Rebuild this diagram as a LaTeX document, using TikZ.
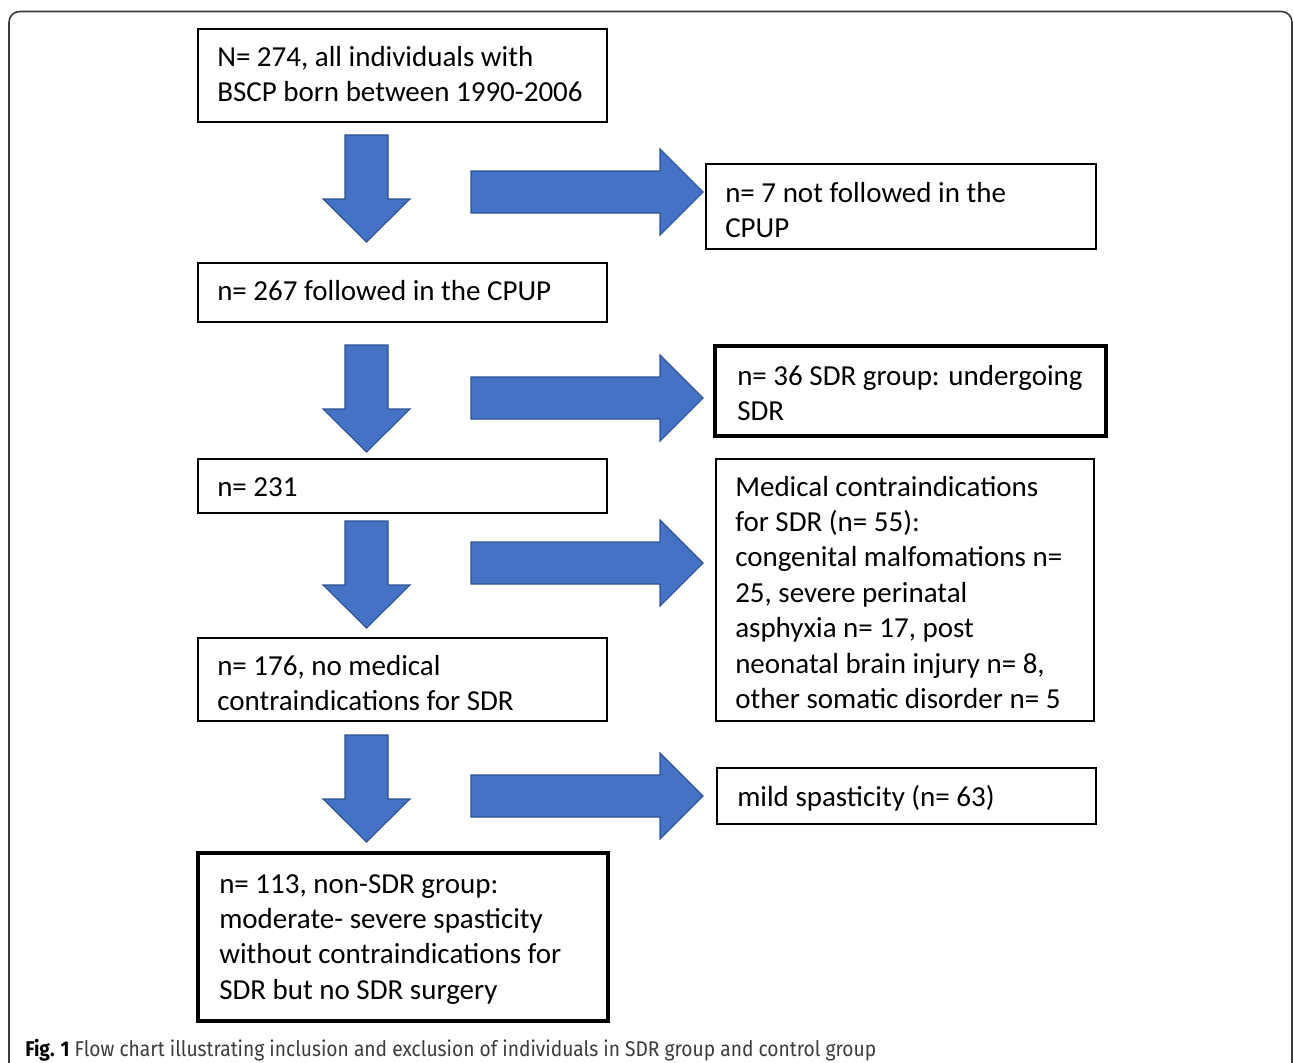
\documentclass[tikz,border=0pt]{standalone}
\usepackage{fontspec}
\setmainfont{Carlito}
\newfontfamily\capfont[FakeStretch=0.9]{Fira Sans}
\usetikzlibrary{fit}
\definecolor{arrowblue}{HTML}{4472C4}
\definecolor{arrowedge}{HTML}{2F528F}
\definecolor{framegray}{HTML}{3A3A3A}
\definecolor{captext}{HTML}{3C3C3C}
\begin{document}
\begin{tikzpicture}[x=0.75pt,y=-0.75pt,
  box/.style={draw=black, line width=1.1pt, inner sep=0pt},
  thickbox/.style={box, line width=3pt},
  txt/.style={anchor=base west, align=left, inner sep=0pt, font=\fontsize{21.75}{26.6}\selectfont},
  blockarrow/.style={fill=arrowblue, draw=arrowedge, line width=0.8pt, line join=miter},
  downarr/.pic={\path[blockarrow] (-21.5,0) -- (21.5,0) -- (21.5,64) -- (43.5,64) -- (0,107) -- (-43.5,64) -- (-21.5,64) -- cycle;},
  rightarr/.pic={\path[blockarrow] (0,-21) -- (189,-21) -- (189,-43) -- (232,0) -- (189,43) -- (189,21) -- (0,21) -- cycle;}
]
\useasboundingbox (0,0) rectangle (1293,1063);
\clip (0,0) rectangle (1293,1063);
\fill[white] (0,0) rectangle (1293,1063);
% outer frame
\draw[framegray, line width=1.2pt, rounded corners=8pt] (9,11.5) rectangle (1292,1100);

% boxes (text anchored at the baseline of its last line)
\node[box, fit={(198,29) (607,122)}] (b1) {};
\node[txt] (t1) at (217,101.5) {N= 274, all individuals with\\BSCP born between 1990-2006};

\node[box, fit={(706,164) (1096,249)}] (b2) {};
\node[txt] (t2) at (725,237.5) {n= 7 not followed in the\\CPUP};

\node[box, fit={(198,263) (607,322)}] (b3) {};
\node[txt] (t3) at (217,300) {n= 267 followed in the CPUP};

\node[thickbox, fit={(715,346) (1106,436)}] (b4) {};
\node[txt] (t4) at (737,420.5) {n= 36 SDR group: undergoing\\SDR};

\node[box, fit={(198,459) (607,513)}] (b5) {};
\node[txt] (t5) at (217,496) {n= 231};

\node[box, fit={(716,459) (1094,721)}] (b6) {};
\node[txt] (t6) at (735,708.8) {Medical contraindications\\for SDR (n= 55):\\congenital malfomations n=\\25, severe perinatal\\asphyxia n= 17, post\\neonatal brain injury n= 8,\\other somatic disorder n= 5};

\node[box, fit={(198,638) (607,721)}] (b7) {};
\node[txt] (t7) at (217,710.5) {n= 176, no medical\\contraindications for SDR};

\node[box, fit={(717,768) (1096,824)}] (b8) {};
\node[txt] (t8) at (737,806) {mild spasticity (n= 63)};

\node[thickbox, fit={(198,853) (608,1021)}] (b9) {};
\node[txt] (t9) at (219,999.4) {n= 113, non-SDR group:\\moderate- severe spasticity\\without contraindications for\\SDR but no SDR surgery};

% block arrows
\pic (d1) at (366.5,135) {downarr};
\pic (d2) at (366.5,345) {downarr};
\pic (d3) at (366.5,521) {downarr};
\pic (d4) at (366.5,735) {downarr};
\pic (r1) at (471,192) {rightarr};
\pic (r2) at (471,398) {rightarr};
\pic (r3) at (471,563) {rightarr};
\pic (r4) at (471,796) {rightarr};

% caption
\node[anchor=base west, inner sep=0pt, font=\capfont\fontsize{16}{18}\selectfont, text=captext] (cap) at (25,1056)
  {{\color{black}\bfseries Fig. 1} Flow chart illustrating inclusion and exclusion of individuals in SDR group and control group};
\end{tikzpicture}
\end{document}
